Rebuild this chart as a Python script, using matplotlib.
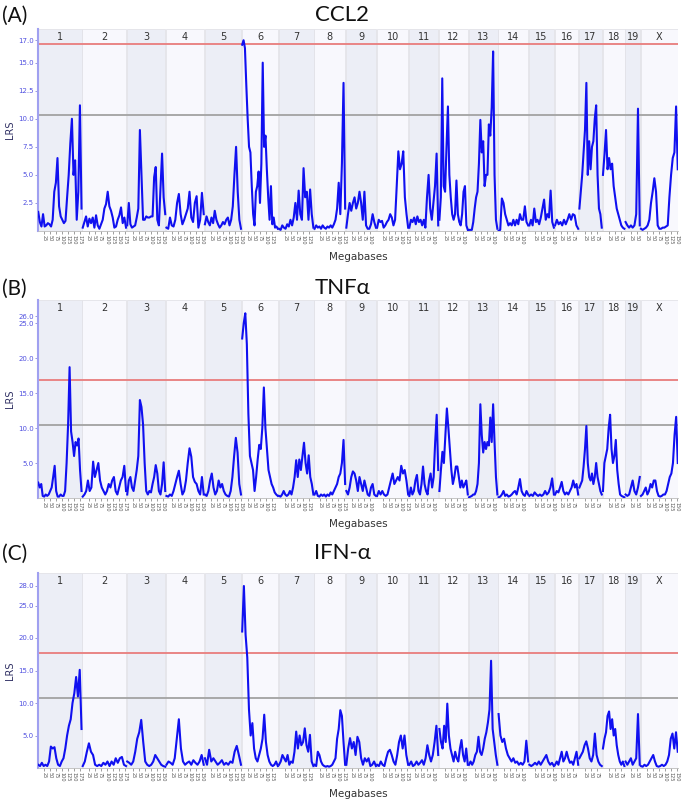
import matplotlib.pyplot as plt
import numpy as np

# chromosomes and their plotted lengths (Mb)
chrom_names = ['1', '2', '3', '4', '5', '6', '7', '8', '9', '10',
               '11', '12', '13', '14', '15', '16', '17', '18', '19', 'X']
chrom_len = [182, 182, 160, 157, 152, 150, 145, 129, 125, 131,
             122, 120, 120, 125, 104, 98, 95, 91, 61, 155]

# LRS profiles, one list per chromosome (values evenly spaced along the chromosome)
ccl2_lrs = [
    [1.7, 0.8, 0.4, 1.5, 0.4, 0.5, 0.7, 0.6, 0.4, 1.0, 3.5, 4.3, 6.5, 2.2, 1.3, 1.0, 0.7, 0.9, 3.0, 5.0, 7.8, 10.0, 5.0, 6.3, 1.0, 3.5, 11.2, 2.0],
    [0.3, 0.8, 1.3, 0.4, 1.1, 0.7, 1.2, 0.3, 1.4, 0.5, 0.2, 0.6, 1.0, 2.0, 2.4, 3.5, 2.2, 1.8, 1.2, 0.3, 0.4, 1.0, 1.4, 2.1, 0.7, 1.2, 0.3],
    [0.5, 2.5, 0.6, 0.3, 0.4, 0.5, 1.2, 2.0, 9.0, 5.0, 1.0, 1.0, 1.3, 1.2, 1.2, 1.3, 1.3, 4.8, 5.7, 1.0, 0.5, 3.8, 6.9, 3.0, 1.5],
    [0.3, 0.2, 1.2, 0.5, 0.4, 1.0, 2.5, 3.3, 1.5, 0.6, 1.0, 1.5, 2.0, 3.5, 1.2, 0.8, 2.5, 3.1, 0.3, 1.0, 3.4, 1.5],
    [0.6, 1.3, 0.8, 0.5, 1.2, 0.7, 1.8, 1.0, 0.6, 0.3, 0.5, 0.8, 0.6, 1.0, 1.2, 0.5, 1.0, 2.2, 5.0, 7.5, 3.5, 1.0, 0.2],
    [16.6, 17.0, 16.3, 13.0, 10.0, 7.5, 7.0, 4.0, 1.5, 0.5, 3.5, 4.0, 5.3, 2.5, 6.0, 15.0, 7.5, 8.5, 5.5, 3.0, 1.0, 4.0, 0.6, 1.2, 0.3, 0.4, 0.2],
    [0.2, 0.1, 0.5, 0.3, 0.2, 0.6, 0.4, 1.0, 0.5, 1.2, 2.5, 1.0, 3.6, 1.5, 1.0, 5.6, 3.0, 3.5, 1.0, 3.7, 1.5, 0.3],
    [0.2, 0.5, 0.3, 0.4, 0.2, 0.5, 0.3, 0.2, 0.4, 0.3, 0.5, 0.3, 0.6, 1.0, 2.0, 4.3, 1.5, 6.0, 13.2, 2.0],
    [0.3, 1.5, 2.5, 1.8, 2.5, 3.0, 2.0, 2.5, 3.5, 2.5, 1.0, 3.5, 0.5, 0.2, 0.2, 0.6, 1.5, 0.8, 0.3],
    [0.3, 1.0, 0.8, 0.9, 0.3, 0.5, 0.8, 1.0, 1.5, 1.2, 0.5, 1.0, 4.0, 7.1, 5.5, 6.0, 7.1, 3.0, 1.5, 0.3],
    [0.3, 1.0, 0.8, 1.2, 0.6, 1.3, 0.8, 1.0, 0.5, 1.0, 0.3, 3.0, 5.0, 2.0, 1.0, 2.5, 4.0, 6.9, 0.5],
    [1.0, 3.0, 13.6, 4.0, 3.5, 7.5, 11.1, 5.0, 3.0, 1.5, 1.0, 1.5, 4.5, 1.5, 0.8, 0.5, 1.5, 3.5, 4.0, 0.5, 0.1],
    [0.1, 0.1, 0.1, 0.8, 2.0, 3.0, 3.5, 6.0, 9.9, 7.0, 8.0, 4.0, 5.0, 5.0, 9.5, 8.5, 11.0, 16.0, 5.0, 1.0, 0.2],
    [0.0, 0.1, 2.9, 2.5, 1.5, 1.0, 0.5, 0.7, 0.5, 1.0, 0.5, 1.0, 0.6, 1.5, 1.0, 1.0, 2.2, 0.8, 0.5],
    [0.5, 1.0, 0.5, 2.0, 0.8, 1.0, 0.6, 1.2, 2.0, 2.8, 1.0, 1.5, 1.2, 3.6, 0.8, 0.3],
    [0.5, 1.0, 0.6, 0.8, 0.5, 1.0, 0.6, 1.0, 1.5, 1.0, 1.5, 1.4, 0.5, 0.2],
    [2.0, 3.5, 5.0, 7.0, 9.0, 13.2, 5.0, 8.0, 5.5, 7.5, 8.0, 10.0, 11.2, 5.0, 2.0, 1.5, 0.3],
    [5.0, 6.8, 9.0, 5.5, 6.5, 5.5, 6.0, 4.0, 3.0, 2.0, 1.5, 1.0, 0.5, 0.3, 0.2],
    [0.8, 0.5, 0.3, 0.5, 0.3, 0.5, 1.5, 10.9, 0.5],
    [0.2, 0.1, 0.2, 0.3, 0.5, 1.0, 2.5, 3.5, 4.7, 3.5, 0.5, 0.2, 0.2, 0.3, 0.3, 0.4, 0.5, 3.0, 5.0, 6.5, 7.0, 11.1, 5.5],
]

tnfa_lrs = [
    [2.2, 1.5, 2.0, 0.3, 0.2, 0.5, 0.3, 0.5, 1.0, 1.5, 3.0, 4.6, 1.0, 0.2, 0.2, 0.5, 0.3, 0.3, 1.0, 5.0, 10.5, 18.7, 9.5, 8.0, 6.0, 8.0, 7.5, 8.5, 4.0, 1.0],
    [0.2, 0.5, 1.0, 2.5, 1.0, 1.5, 5.2, 3.0, 4.0, 5.0, 2.5, 1.5, 1.0, 0.5, 1.0, 2.0, 1.5, 2.5, 3.0, 1.0, 0.5, 1.5, 2.5, 3.0, 4.6, 1.0],
    [0.5, 2.5, 3.0, 1.5, 1.0, 2.5, 4.0, 6.0, 14.0, 13.0, 10.5, 5.0, 1.0, 0.5, 1.0, 0.8, 2.0, 3.0, 4.7, 3.5, 1.0, 0.5, 2.0, 5.1, 1.0],
    [0.3, 0.2, 0.5, 0.3, 1.0, 2.0, 3.0, 3.9, 2.0, 0.5, 1.0, 2.5, 5.0, 7.1, 5.9, 3.0, 2.3, 2.0, 1.0, 0.5, 3.0, 0.5],
    [0.5, 0.3, 1.0, 2.5, 3.5, 1.5, 0.5, 1.0, 2.5, 1.5, 2.0, 1.0, 0.5, 0.3, 0.2, 1.0, 3.0, 6.0, 8.6, 6.5, 2.0, 0.5],
    [22.8, 25.0, 26.4, 22.0, 12.0, 6.0, 5.0, 4.0, 1.0, 3.0, 5.5, 7.6, 7.0, 10.0, 15.8, 10.0, 7.0, 4.0, 3.0, 2.0, 1.5, 0.8, 0.5, 0.3],
    [0.3, 0.2, 0.5, 1.0, 0.5, 0.3, 0.5, 1.0, 0.5, 1.5, 3.0, 5.4, 3.0, 5.5, 4.0, 6.0, 7.9, 5.0, 3.5, 6.1, 3.0, 2.0, 0.5],
    [0.5, 1.0, 0.3, 0.2, 0.5, 0.3, 0.5, 0.2, 0.5, 0.3, 0.8, 0.5, 1.0, 1.5, 2.0, 3.0, 3.5, 5.0, 8.3, 2.0],
    [1.0, 0.5, 1.5, 3.0, 3.8, 3.5, 2.5, 1.0, 3.0, 2.0, 1.0, 2.5, 1.5, 0.5, 0.3, 1.5, 2.0, 0.5, 0.3],
    [0.3, 1.0, 0.5, 1.0, 0.5, 0.3, 0.5, 1.5, 2.5, 3.5, 2.0, 2.5, 3.0, 2.5, 4.6, 3.5, 4.0, 2.5, 0.5],
    [0.3, 1.5, 0.5, 1.0, 2.5, 3.3, 1.0, 0.5, 2.0, 4.5, 2.0, 1.0, 0.5, 2.5, 3.5, 1.5, 3.0, 8.0, 11.9, 4.0],
    [1.0, 4.0, 6.6, 5.0, 9.0, 12.8, 10.0, 7.0, 4.0, 2.0, 3.0, 4.5, 4.5, 3.0, 1.5, 2.5, 1.5, 2.0, 2.5, 0.5],
    [0.1, 0.2, 0.3, 0.5, 0.5, 1.0, 2.0, 5.0, 13.4, 9.0, 6.5, 8.0, 7.0, 8.0, 7.5, 11.5, 8.0, 13.4, 8.0, 3.0, 0.5],
    [0.1, 0.2, 0.5, 1.0, 0.3, 0.5, 0.2, 0.3, 0.5, 0.8, 1.0, 0.5, 1.5, 2.7, 1.0, 0.5, 0.3, 1.0, 0.5],
    [0.3, 0.5, 0.3, 0.8, 0.5, 0.3, 0.5, 0.3, 0.5, 1.0, 0.5, 0.8, 1.5, 2.8, 0.5],
    [0.5, 1.0, 0.8, 1.5, 2.3, 1.0, 0.5, 0.8, 0.5, 1.0, 1.5, 2.5, 1.5, 2.0, 0.5],
    [1.5, 2.0, 2.5, 4.5, 7.0, 10.3, 5.0, 3.0, 2.5, 3.5, 2.0, 3.0, 5.0, 3.0, 2.0, 1.0, 0.5],
    [1.0, 5.0, 6.0, 7.0, 10.0, 11.9, 7.0, 5.0, 6.0, 8.3, 4.0, 2.0, 0.5, 0.3, 0.2, 0.1],
    [0.5, 0.3, 0.5, 1.5, 2.5, 1.0, 0.5, 1.5, 3.0],
    [0.3, 0.5, 1.0, 1.5, 0.5, 1.0, 2.0, 1.5, 2.5, 2.5, 1.0, 0.3, 0.2, 0.3, 0.5, 0.5, 1.0, 2.0, 3.0, 3.5, 5.0, 9.0, 11.6, 5.0],
]

ifna_lrs = [
    [0.5, 0.3, 0.8, 0.3, 0.5, 0.3, 1.0, 3.3, 3.0, 3.2, 1.5, 0.5, 0.3, 1.0, 1.5, 3.0, 5.0, 6.5, 7.5, 10.0, 11.5, 14.0, 11.0, 15.1, 6.0],
    [0.3, 1.0, 2.5, 3.8, 2.5, 2.0, 0.5, 0.3, 0.5, 0.3, 0.8, 0.5, 1.0, 0.3, 1.0, 0.5, 1.5, 0.8, 1.5, 1.7, 0.5, 0.3],
    [1.0, 0.8, 0.5, 1.0, 2.5, 4.5, 5.5, 7.4, 4.0, 1.0, 0.5, 0.3, 0.5, 1.0, 2.0, 1.5, 1.0, 0.5, 0.3, 0.2],
    [0.5, 1.0, 0.8, 0.5, 1.5, 4.5, 7.5, 3.0, 1.0, 0.5, 0.8, 1.0, 0.5, 1.2, 0.8, 0.5, 1.0, 2.0, 0.5],
    [1.5, 0.5, 2.8, 1.0, 1.5, 1.0, 0.5, 0.8, 1.2, 0.5, 0.8, 0.5, 1.0, 0.8, 2.5, 3.4, 2.0, 0.5],
    [21.0, 28.0, 20.5, 17.0, 9.0, 5.0, 6.9, 3.0, 1.5, 1.0, 2.0, 3.0, 4.5, 8.2, 4.0, 2.0, 1.0, 0.5, 0.3, 0.5, 1.0, 0.3],
    [0.5, 1.0, 2.0, 1.5, 1.0, 2.0, 0.5, 1.0, 0.8, 2.5, 5.6, 3.0, 5.0, 3.5, 4.0, 6.1, 3.5, 2.5, 5.1, 1.0, 0.3],
    [0.5, 0.3, 2.5, 2.0, 1.0, 0.5, 0.3, 0.2, 0.3, 0.2, 0.3, 0.5, 1.0, 1.5, 4.5, 6.0, 8.9, 8.0, 4.0, 0.5],
    [0.5, 3.0, 4.6, 3.0, 4.0, 2.0, 4.8, 4.0, 1.5, 0.5, 1.5, 1.0, 1.5, 0.3, 0.5, 1.0, 0.3],
    [0.5, 0.3, 1.0, 0.5, 0.3, 1.5, 2.5, 2.8, 2.0, 1.0, 0.5, 2.0, 4.0, 5.0, 3.0, 5.0, 2.0, 0.5],
    [0.5, 1.0, 0.3, 0.5, 1.0, 0.5, 0.8, 1.2, 0.5, 1.5, 3.5, 2.0, 1.0, 2.0, 4.0, 6.5, 2.0],
    [6.0, 4.0, 3.0, 6.5, 4.0, 9.9, 5.0, 3.0, 2.0, 1.0, 2.5, 1.5, 1.0, 3.0, 4.3, 2.0, 1.0, 3.0, 0.5],
    [0.5, 1.0, 0.5, 1.0, 2.0, 2.5, 4.8, 2.5, 2.0, 3.0, 4.5, 5.5, 7.0, 9.0, 16.5, 6.0, 4.0, 2.0, 0.5],
    [8.3, 5.0, 4.0, 4.5, 3.0, 2.0, 1.5, 1.0, 1.5, 0.8, 1.0, 0.5, 0.8, 0.5, 1.0, 4.2, 1.0],
    [0.5, 0.3, 0.5, 0.8, 0.5, 1.0, 0.5, 1.0, 1.5, 2.0, 1.0, 0.5, 0.8, 0.3],
    [0.5, 1.0, 0.5, 1.5, 2.5, 1.0, 1.5, 2.5, 1.5, 0.8, 1.0, 0.5, 1.5, 2.5, 0.5],
    [1.5, 2.0, 2.5, 3.5, 4.1, 3.0, 1.5, 1.0, 2.0, 5.3, 2.0, 1.0, 0.5, 0.3],
    [3.0, 4.5, 5.5, 8.0, 8.7, 6.0, 7.5, 5.0, 6.0, 3.5, 2.0, 1.0, 0.5, 1.0, 0.3],
    [1.0, 0.5, 1.0, 1.5, 0.5, 1.0, 1.5, 8.3, 0.5],
    [0.3, 0.2, 0.5, 0.3, 0.5, 1.0, 1.5, 2.0, 1.0, 0.3, 0.2, 0.3, 0.5, 0.3, 0.5, 1.0, 2.0, 4.5, 5.3, 3.0, 5.5, 2.5],
]

titles = ['CCL2', 'TNF\u03b1', 'IFN-\u03b1']
letters = ['(A)', '(B)', '(C)']
suggestive = [10.3, 10.5, 10.7]
significant = [16.7, 16.9, 17.7]
y_max = [18.0, 28.3, 30.0]
y_ticks = [[2.5, 5.0, 7.5, 10.0, 12.5, 15.0, 17.0],
           [5.0, 10.0, 15.0, 20.0, 25.0, 26.0],
           [5.0, 10.0, 15.0, 20.0, 25.0, 28.0]]
profiles = [ccl2_lrs, tnfa_lrs, ifna_lrs]

W, H = 685, 807
fig = plt.figure(figsize=(W / 100, H / 100), dpi=100)

# axes boxes in pixels: (top, bottom)
boxes = [(29, 231), (300, 498), (573, 768)]
title_y = [15, 288, 553]
left_px, right_px = 38, 678

gap = 3
offsets = np.concatenate([[0], np.cumsum(np.array(chrom_len) + gap)[:-1]])
total = offsets[-1] + chrom_len[-1]

tick_pos, tick_lab = [], []
for off, L in zip(offsets, chrom_len):
    for mb in range(25, L, 25):
        tick_pos.append(off + mb)
        tick_lab.append(str(mb))

for k in range(3):
    top, bot = boxes[k]
    ax = fig.add_axes([left_px / W, 1 - bot / H, (right_px - left_px) / W, (bot - top) / H])
    ax.set_xlim(0, total)
    ax.set_ylim(0, y_max[k])

    for i, (name, L) in enumerate(zip(chrom_names, chrom_len)):
        x0 = offsets[i]
        shade = '#eceef6' if i % 2 == 0 else '#f8f8fd'
        ax.axvspan(x0, x0 + L, facecolor=shade, edgecolor='#e2e2e8', lw=0.6, zorder=0)
        ax.text(x0 + L / 2, 0.985, name, transform=ax.get_xaxis_transform(),
                ha='center', va='top', fontsize=7, color='#333333')
        vals = profiles[k][i]
        xs = x0 + np.linspace(1, L - 1, len(vals))
        ax.plot(xs, vals, color='#1010f0', lw=1.5, zorder=3)

    ax.axhline(significant[k], color='#e98585', lw=1.4, zorder=2)
    ax.axhline(suggestive[k], color='#a8a8a8', lw=1.4, zorder=2)

    ax.set_yticks(y_ticks[k])
    ax.set_yticklabels([f'{t:.1f}' for t in y_ticks[k]])
    ax.tick_params(axis='y', labelsize=5, labelcolor='#5050e0', color='#8888dd',
                   length=2, width=0.6, pad=1)
    ax.set_xticks(tick_pos)
    ax.set_xticklabels(tick_lab, rotation=270, fontsize=3.6, color='#555555')
    ax.tick_params(axis='x', length=2, width=0.5, color='#777777', pad=1)
    ax.set_ylabel('LRS', fontsize=7, color='#333366', labelpad=2)
    ax.set_xlabel('Megabases', fontsize=7.5, color='#333333', labelpad=5)

    for side in ['top', 'right']:
        ax.spines[side].set_visible(False)
    ax.spines['left'].set_color('#a0a0f0')
    ax.spines['left'].set_linewidth(1.5)
    ax.spines['bottom'].set_color('#bbbbbb')
    ax.spines['bottom'].set_linewidth(0.6)

    fig.text(0.5, 1 - title_y[k] / H, titles[k], ha='center', va='center',
             fontsize=16, family='Lato', color='#111111')
    fig.text(0.003, 1 - (title_y[k] + 1) / H, letters[k], ha='left', va='center',
             fontsize=15, family='Lato', color='#111111')

fig.savefig('out.png', dpi=100)
